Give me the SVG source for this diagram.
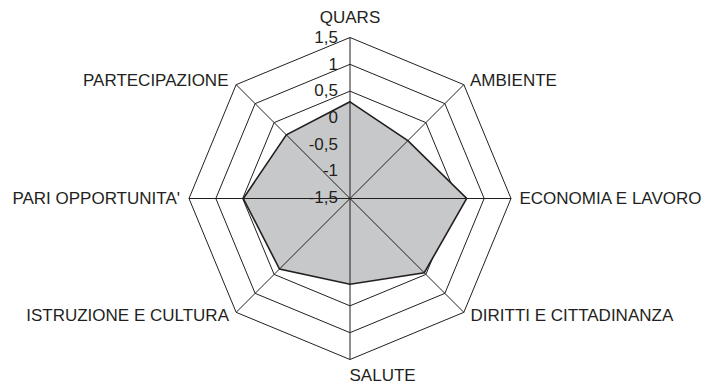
<svg xmlns="http://www.w3.org/2000/svg" width="706" height="385" viewBox="0 0 706 385">
  <style>
    text { font-family: "Liberation Sans", Arial, sans-serif; font-size: 17px; fill: #231f20; }
    .ring { fill: none; stroke: #231f20; stroke-width: 1; stroke-linejoin: miter; }
    .axis { stroke: #231f20; stroke-width: 1; }
    .data { fill: #c7c8ca; stroke: #231f20; stroke-width: 1.6; stroke-linejoin: miter; }
    .tick { text-anchor: end; }
  </style>
  <rect width="706" height="385" fill="#ffffff"/>
  <g id="grid">
    <polygon class="ring" points="350,37.5 463.84,84.66 511,198.5 463.84,312.34 350,359.5 236.16,312.34 189,198.5 236.16,84.66"/>
    <polygon class="ring" points="350,64.33 444.87,103.63 484.17,198.5 444.87,293.37 350,332.67 255.13,293.37 215.83,198.5 255.13,103.63"/>
    <polygon class="ring" points="350,91.17 425.9,122.6 457.33,198.5 425.9,274.4 350,305.83 274.1,274.4 242.67,198.5 274.1,122.6"/>
  </g>
  <g id="series">
    <polygon class="data" points="350,101.8 407.84,140.66 466.7,198.5 424.25,272.75 350,284.2 279.5,269 243.3,198.5 286.36,134.86"/>
  </g>
  <g id="axes">
    <line class="axis" x1="350" y1="198.5" x2="350" y2="37.5"/>
    <line class="axis" x1="350" y1="198.5" x2="463.84" y2="84.66"/>
    <line class="axis" x1="350" y1="198.5" x2="511" y2="198.5"/>
    <line class="axis" x1="350" y1="198.5" x2="463.84" y2="312.34"/>
    <line class="axis" x1="350" y1="198.5" x2="350" y2="359.5"/>
    <line class="axis" x1="350" y1="198.5" x2="236.16" y2="312.34"/>
    <line class="axis" x1="350" y1="198.5" x2="189" y2="198.5"/>
    <line class="axis" x1="350" y1="198.5" x2="236.16" y2="84.66"/>
  </g>
  <g id="ticks">
    <text class="tick" x="338" y="43">1,5</text>
    <text class="tick" x="338" y="69.7">1</text>
    <text class="tick" x="338" y="96.3">0,5</text>
    <text class="tick" x="338" y="123">0</text>
    <text class="tick" x="338" y="149.7">-0,5</text>
    <text class="tick" x="338" y="176.3">-1</text>
    <text class="tick" x="338" y="203">-1,5</text>
  </g>
  <g id="labels">
    <text id="lbl-quars" x="350" y="23" text-anchor="middle">QUARS</text>
    <text id="lbl-ambiente" x="470" y="86">AMBIENTE</text>
    <text id="lbl-economia" x="519.5" y="204">ECONOMIA E LAVORO</text>
    <text id="lbl-diritti" x="470.5" y="321">DIRITTI E CITTADINANZA</text>
    <text id="lbl-salute" x="349.5" y="381">SALUTE</text>
    <text id="lbl-istruzione" x="229" y="321" text-anchor="end">ISTRUZIONE E CULTURA</text>
    <text id="lbl-pari" x="180" y="204" text-anchor="end">PARI OPPORTUNITA'</text>
    <text id="lbl-partecipazione" x="228.5" y="86" text-anchor="end">PARTECIPAZIONE</text>
  </g>
</svg>
